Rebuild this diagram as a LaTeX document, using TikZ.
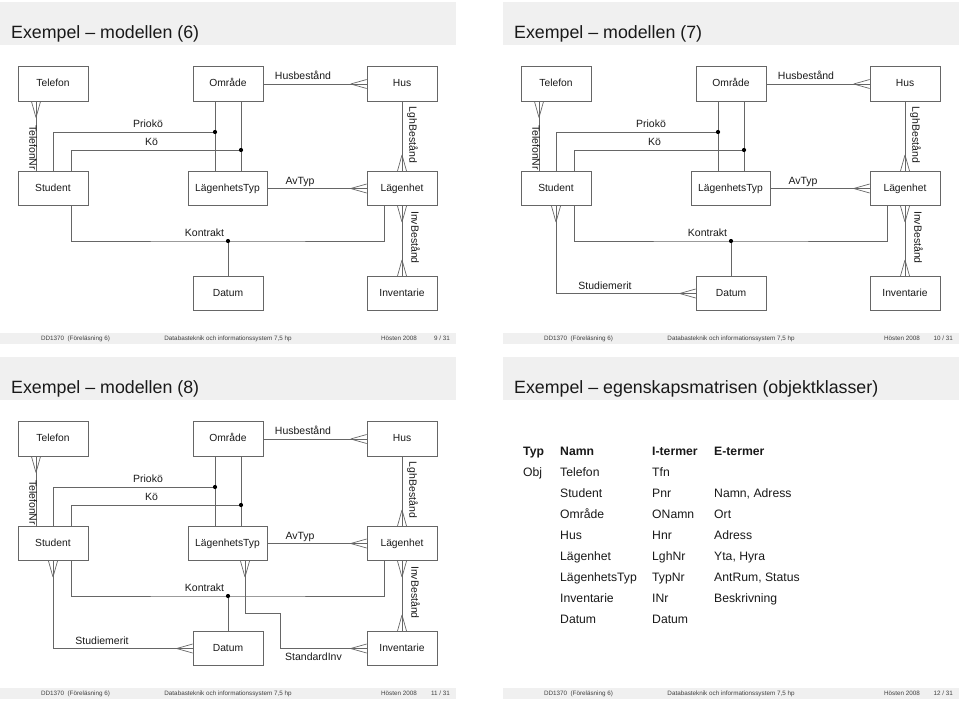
\documentclass[tikz,border=0pt]{standalone}
\usepackage{fontspec}
\setmainfont{Liberation Sans}
\usetikzlibrary{calc}
\definecolor{LineClr}{rgb}{0.4,0.4,0.4}
\definecolor{BandClr}{rgb}{0.94,0.94,0.94}
\definecolor{FootClr}{rgb}{0.25,0.25,0.25}
\definecolor{TextClr}{rgb}{0.1,0.1,0.1}

\tikzset{
  EntBox/.style={draw=LineClr,line width=0.7pt,minimum width=70pt,minimum height=34.5pt,inner sep=0pt,text height=7.4pt,text depth=2.2pt,font=\fontsize{10.3}{12}\selectfont,text=TextClr},
  RelLine/.style={draw=LineClr,line width=0.7pt},
  RelLbl/.style={inner sep=0pt,text height=7.6pt,text depth=2.2pt,font=\fontsize{10.5}{12}\selectfont,text=TextClr},
  TitleTxt/.style={inner sep=0pt,anchor=base west,font=\fontsize{17.8}{20}\selectfont,text=TextClr},
  FootTxt/.style={inner sep=0pt,text height=4.6pt,text depth=1.3pt,font=\fontsize{6.3}{7}\selectfont,text=FootClr},
  TabTxt/.style={inner sep=0pt,anchor=base west,font=\fontsize{12.2}{14}\selectfont,text=TextClr}
}

\newcommand{\CrowFoot}[2]{%
  \draw[RelLine] ($(#1)+(#2:16)$) -- ($(#1)+(#2+90:4.5)$)
                 ($(#1)+(#2:16)$) -- ($(#1)+(#2-90:4.5)$);}

\newcommand{\SlideFrame}[2]{%
  \fill[BandClr] (0,2) rectangle (456,45);
  \node[TitleTxt] (Title) at (11,38) {#1};
  \fill[BandClr] (0,333) rectangle (456,344);
  \node[FootTxt] (FootA) at (75.5,338.5) {DD1370\ \ (Föreläsning 6)};
  \node[FootTxt] (FootB) at (228,338.5) {Databasteknik och informationssystem 7,5 hp};
  \node[FootTxt,anchor=east] (FootC) at (417,338.5) {Hösten 2008};
  \node[FootTxt,anchor=east] (FootD) at (450,338.5) {#2 / 31};}

\newcommand{\BaseModel}{%
  \node[EntBox] (Telefon) at (53,84) {Telefon};
  \node[EntBox] (Omrade) at (228,84) {Område};
  \node[EntBox] (Hus) at (402,84) {Hus};
  \node[EntBox] (Student) at (53,188.5) {Student};
  \node[EntBox,minimum width=79pt] (LTyp) at (227.5,188.5) {LägenhetsTyp};
  \node[EntBox] (Lgh) at (402,188.5) {Lägenhet};
  \node[EntBox] (Datum) at (228,293.5) {Datum};
  \node[EntBox] (Inventarie) at (402,293.5) {Inventarie};
  %
  \coordinate (TelS) at ([xshift=-17pt]Telefon.south);
  \coordinate (PrioDot) at (215,132);
  \coordinate (KoDot) at (241,150);
  \coordinate (KonDot) at (228,241);
  %
  \draw[RelLine] (Omrade.east) -- (Hus.west);
  \draw[RelLine] (LTyp.east) -- (Lgh.west);
  \draw[RelLine] (Hus.south) -- (Lgh.north);
  \draw[RelLine] (TelS) -- (TelS |- Student.north);
  \draw[RelLine] (Student.north) |- (PrioDot);
  \draw[RelLine] ([xshift=18pt]Student.north) |- (KoDot);
  \draw[RelLine] (PrioDot |- Omrade.south) -- (PrioDot |- LTyp.north);
  \draw[RelLine] (KoDot |- Omrade.south) -- (KoDot |- LTyp.north);
  \draw[RelLine] ([xshift=18pt]Student.south) |- (KonDot) -| ([xshift=-18pt]Lgh.south);
  \draw[RelLine] (KonDot) -- (Datum.north);
  \draw[RelLine] (Lgh.south) -- (Inventarie.north);
  %
  \CrowFoot{Hus.west}{180}
  \CrowFoot{Lgh.west}{180}
  \CrowFoot{Lgh.north}{-90}
  \CrowFoot{TelS}{90}
  \CrowFoot{Lgh.south}{90}
  \CrowFoot{Inventarie.north}{-90}
  %
  \fill[black] (PrioDot) circle (2.1pt) (KoDot) circle (2.1pt) (KonDot) circle (2.1pt);
  %
  \node[RelLbl] (HusbLbl) at (303,77) {Husbestånd};
  \node[RelLbl] (AvTypLbl) at (300,181.5) {AvTyp};
  \node[RelLbl] (PrioLbl) at (148,125) {Priokö};
  \node[RelLbl] (KoLbl) at (151.5,143) {Kö};
  \node[RelLbl] (KonLbl) at (204.5,233.5) {Kontrakt};
  \node[RelLbl,rotate=-90] (LghbLbl) at (412,135) {LghBestånd};
  \node[RelLbl,rotate=-90] (InvbLbl) at (414,237.5) {InvBestånd};
  \node[RelLbl,rotate=-90] (TelNrLbl) at (32,147.5) {TelefonNr};}

\newcommand{\StudMerit}{%
  \draw[RelLine] (Student.south) |- (Datum.west);
  \CrowFoot{Student.south}{90}
  \CrowFoot{Datum.west}{180}
  \node[RelLbl] (StudLbl) at (102,287) {Studiemerit};}

\begin{document}
\begin{tikzpicture}[x=1pt,y=-1pt]
\useasboundingbox (0,0) rectangle (960,701);

\begin{scope}[name prefix=sA-]
\SlideFrame{Exempel – modellen (6)}{9}
\BaseModel
\end{scope}

\begin{scope}[shift={(503,0)},name prefix=sB-]
\SlideFrame{Exempel – modellen (7)}{10}
\BaseModel
\StudMerit
\end{scope}

\begin{scope}[shift={(0,355)},name prefix=sC-]
\SlideFrame{Exempel – modellen (8)}{11}
\BaseModel
\StudMerit
\coordinate (LTypS) at ([xshift=17.5pt]LTyp.south);
\coordinate (StdBend) at (280,258);
\draw[RelLine] (LTypS) |- (StdBend) |- (Inventarie.west);
\CrowFoot{LTypS}{90}
\CrowFoot{Inventarie.west}{180}
\node[RelLbl] (StdLbl) at (313.5,302.5) {StandardInv};
\end{scope}

\begin{scope}[shift={(503,355)},name prefix=sD-]
\SlideFrame{Exempel – egenskapsmatrisen (objektklasser)}{12}
\node[TabTxt,font=\fontsize{12.2}{14}\selectfont\bfseries] (HdTyp) at (20,100) {Typ};
\node[TabTxt,font=\fontsize{12.2}{14}\selectfont\bfseries] (HdNamn) at (57,100) {Namn};
\node[TabTxt,font=\fontsize{12.2}{14}\selectfont\bfseries] (HdIterm) at (149,100) {I-termer};
\node[TabTxt,font=\fontsize{12.2}{14}\selectfont\bfseries] (HdEterm) at (211,100) {E-termer};
\node[TabTxt] (ObjTyp) at (20,121) {Obj};
\foreach \nm/\ik/\ek [count=\rw] in {Telefon/Tfn/{},Student/Pnr/{Namn, Adress},Område/ONamn/Ort,Hus/Hnr/Adress,Lägenhet/LghNr/{Yta, Hyra},LägenhetsTyp/TypNr/{AntRum, Status},Inventarie/INr/Beskrivning,Datum/Datum/{}}{
  \node[TabTxt] (Nm\rw) at (57,100+21*\rw) {\nm};
  \node[TabTxt] (Ik\rw) at (149,100+21*\rw) {\ik};
  \node[TabTxt] (Ek\rw) at (211,100+21*\rw) {\ek};
}
\end{scope}

\end{tikzpicture}
\end{document}
